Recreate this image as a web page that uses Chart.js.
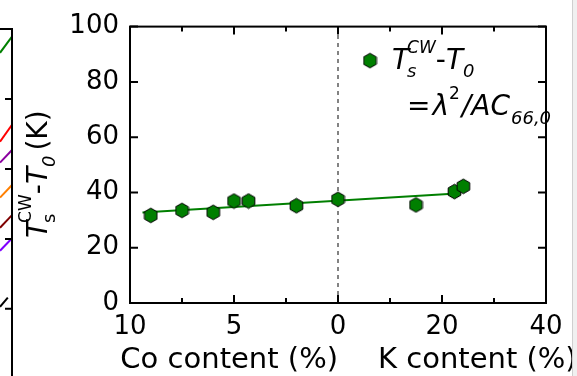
<!DOCTYPE html>
<html>
<head>
<meta charset="utf-8">
<script src="https://cdn.jsdelivr.net/npm/chart.js@4/dist/chart.umd.min.js"></script>
<style>
  html, body { margin: 0; padding: 0; background: #fff; }
  #wrap { position: relative; width: 577px; height: 376px; overflow: hidden; }
  #main, #side { position: absolute; left: 0; top: 0; }
  #edge { position: absolute; left: 572px; top: 0; width: 5px; height: 376px; background: #f0f0f0; border-left: 1px solid #cfcfcf; }
</style>
</head>
<body>
<div id="wrap">
  <canvas id="main" width="577" height="376"></canvas>
  <canvas id="side" width="13" height="376"></canvas>
  <div id="edge"></div>
</div>
<script>
// Co-doped side (x runs 10 -> 0) and K-doped side (x runs 0 -> 40)
const coContent = [9.0, 7.5, 6.0, 5.0, 4.3, 2.0, 0];
const coTemp    = [31.7, 33.5, 32.8, 36.9, 36.9, 35.2, 37.5];
const kContent  = [15.0, 22.4, 24.1];
const kTemp     = [35.5, 40.3, 42.2];

// linear fit, ends given on the two content axes
const fitStart = { co: 9.4, t: 32.7 };
const fitEnd   = { k: 22.0, t: 39.5 };

const xTickValues = [-1, -0.75, -0.5, -0.25, 0, 0.25, 0.5, 0.75, 1];
const xTickLabels = { '-1': '10', '-0.5': '5', '0': '0', '0.5': '20', '1': '40' };
const yTicks = [0, 20, 40, 60, 80, 100];

// neighbouring panel, only its right edge is visible
const sideColors = ['#008000', '#ff0000', '#8b00a0', '#ff7f00', '#7f0000', '#8000ff', '#000000'];
const sideLeft   = [36.6, 23.9, 20.9, 15.9, 11.6, 8.3, 0.3];
const sideRight  = [38.9, 26.3, 22.7, 17.7, 13.4, 10.1, 1.6];
const sideRightX = [1, 1, 1, 1, 1, 1, 0.65];
const sideTicks  = [0, 10, 20, 30];

const FONT = 'DejaVu Sans';
const GREEN = '#007f00';

// both content axes share one linear scale: Co maps to [-1,0], K to [0,1]
const fromCo = c => -c / 10;
const fromK = k => k / 40;

function hexagon(r, fill) {
  const c = document.createElement('canvas');
  const w = Math.ceil(Math.sqrt(3) * r) + 2, h = Math.ceil(2 * r) + 2;
  c.width = w; c.height = h;
  const g = c.getContext('2d');
  g.beginPath();
  for (let i = 0; i < 6; i++) {
    const a = Math.PI / 2 + i * Math.PI / 3;
    const x = w / 2 + r * Math.cos(a), y = h / 2 + r * Math.sin(a);
    if (i) g.lineTo(x, y); else g.moveTo(x, y);
  }
  g.closePath();
  g.fillStyle = fill; g.fill();
  g.strokeStyle = '#000'; g.lineWidth = 1; g.stroke();
  return c;
}
const hex = hexagon(7.3, GREEN);

// draw a row of text pieces (for sub/superscripts)
function runs(ctx, x, y, parts) {
  let cx = x;
  parts.forEach(p => {
    ctx.font = (p.italic ? 'italic ' : '') + p.size + 'px "' + FONT + '"';
    ctx.fillText(p.text, cx, y + (p.dy || 0));
    if (!p.stack) cx += ctx.measureText(p.text).width + (p.gap || 0);
  });
  return cx;
}

const points = coContent.map((c, i) => ({ x: fromCo(c), y: coTemp[i] }))
  .concat(kContent.map((k, i) => ({ x: fromK(k), y: kTemp[i] })));

const framePlugin = {
  id: 'frame',
  afterDatasetsDraw(chart) {
    const { ctx, chartArea: a, scales: { x, y } } = chart;
    ctx.save();
    ctx.strokeStyle = '#000';
    ctx.lineWidth = 2;
    ctx.strokeRect(a.left, a.top, a.right - a.left, a.bottom - a.top);
    ctx.beginPath();
    xTickValues.forEach(v => {
      const px = x.getPixelForValue(v);
      const len = xTickLabels[String(v)] !== undefined ? 8 : 5;
      ctx.moveTo(px, a.bottom); ctx.lineTo(px, a.bottom - len);
      ctx.moveTo(px, a.top); ctx.lineTo(px, a.top + len);
    });
    yTicks.forEach(v => {
      const py = y.getPixelForValue(v);
      ctx.moveTo(a.left, py); ctx.lineTo(a.left + 8, py);
      ctx.moveTo(a.right, py); ctx.lineTo(a.right - 8, py);
    });
    ctx.stroke();
    ctx.restore();
  },
  afterDraw(chart) {
    const { ctx, chartArea: a, scales: { x } } = chart;
    ctx.save();
    ctx.fillStyle = '#000';
    ctx.textBaseline = 'alphabetic';

    // axis titles under the two halves
    ctx.font = '29px "' + FONT + '"';
    ctx.textAlign = 'right';
    ctx.fillText('Co content (%)', x.getPixelForValue(0), 368);
    ctx.textAlign = 'left';
    ctx.fillText('K content (%)', x.getPixelForValue(0) + 40, 368);

    // rotated y title
    ctx.save();
    ctx.translate(47, 238);
    ctx.rotate(-Math.PI / 2);
    ctx.textAlign = 'left';
    let cx = runs(ctx, 0, 0, [{ text: 'T', italic: true, size: 28, gap: -2 }]);
    runs(ctx, cx, 0, [{ text: 's', size: 18, dy: 8, stack: true }]);
    cx = runs(ctx, cx, 0, [{ text: 'CW', size: 17, dy: -16 }]);
    runs(ctx, cx, 0, [{ text: '-', size: 28 }, { text: 'T', italic: true, size: 28 },
      { text: '0', italic: true, size: 18, dy: 8, gap: 5 }, { text: '(K)', size: 28 }]);
    ctx.restore();

    // legend box
    const lx = a.right - 176, ly = a.top + 34;
    ctx.drawImage(hex, lx - hex.width / 2, ly - hex.height / 2);
    cx = runs(ctx, lx + 22, ly + 8, [{ text: 'T', italic: true, size: 28, gap: -2 }]);
    runs(ctx, cx, ly + 8, [{ text: 's', italic: true, size: 18, dy: 8, stack: true }]);
    cx = runs(ctx, cx, ly + 8, [{ text: 'CW', italic: true, size: 17, dy: -16 }]);
    runs(ctx, cx, ly + 8, [{ text: '-', size: 28 }, { text: 'T', italic: true, size: 28 },
      { text: '0', italic: true, size: 18, dy: 8 }]);
    runs(ctx, lx + 37, ly + 54, [{ text: '=', size: 28, gap: 2 }, { text: 'λ', italic: true, size: 28 },
      { text: '2', size: 17, dy: -16, gap: 2 }, { text: '/AC', italic: true, size: 28, gap: 1 },
      { text: '66,0', italic: true, size: 18, dy: 9 }]);
    ctx.restore();
  }
};

new Chart(document.getElementById('main'), {
  type: 'scatter',
  data: {
    datasets: [
      {
        label: 'Ts-T0',
        data: points,
        pointStyle: hex,
        pointRadius: 8,
        showLine: false,
        order: 0
      },
      {
        label: 'fit',
        data: [{ x: fromCo(fitStart.co), y: fitStart.t }, { x: fromK(fitEnd.k), y: fitEnd.t }],
        showLine: true,
        borderColor: GREEN,
        borderWidth: 2,
        pointRadius: 0,
        order: 1
      },
      {
        label: 'divider',
        data: [{ x: 0, y: 0 }, { x: 0, y: 100 }],
        showLine: true,
        borderColor: '#333',
        borderWidth: 1.2,
        borderDash: [4, 4],
        pointRadius: 0,
        order: 2
      }
    ]
  },
  options: {
    responsive: false,
    animation: false,
    layout: { padding: { left: 0, right: 31, top: 22, bottom: 0 } },
    plugins: { legend: { display: false }, tooltip: { enabled: false } },
    scales: {
      x: {
        type: 'linear', min: -1, max: 1,
        afterBuildTicks: s => { s.ticks = xTickValues.map(v => ({ value: v })); },
        afterFit: s => { s.height = 73; },
        grid: { display: false, drawTicks: false },
        border: { display: false },
        ticks: {
          autoSkip: false, maxRotation: 0, padding: 9, color: '#000',
          font: { family: FONT, size: 26 },
          callback: v => xTickLabels[String(v)] || ''
        }
      },
      y: {
        min: 0, max: 100,
        afterBuildTicks: s => { s.ticks = yTicks.map(v => ({ value: v })); },
        afterFit: s => { s.width = 130; },
        grid: { display: false, drawTicks: false },
        border: { display: false },
        ticks: { padding: 11, color: '#000', font: { family: FONT, size: 26 } }
      }
    }
  },
  plugins: [framePlugin]
});

// edge of the neighbouring panel on the far left
const sideFrame = {
  id: 'sideFrame',
  afterDatasetsDraw(chart) {
    const { ctx, chartArea: a, scales: { y } } = chart;
    ctx.save();
    ctx.strokeStyle = '#000';
    ctx.lineWidth = 2;
    ctx.beginPath();
    ctx.moveTo(0, a.top); ctx.lineTo(a.right, a.top); ctx.lineTo(a.right, a.bottom);
    sideTicks.forEach(v => {
      const py = y.getPixelForValue(v);
      ctx.moveTo(a.right, py); ctx.lineTo(a.right - 7, py);
    });
    ctx.stroke();
    ctx.restore();
  }
};

new Chart(document.getElementById('side'), {
  type: 'scatter',
  data: {
    datasets: sideColors.map((col, i) => ({
      data: [{ x: 0, y: sideLeft[i] }, { x: sideRightX[i], y: sideRight[i] }],
      showLine: true, borderColor: col, borderWidth: 2, pointRadius: 0
    }))
  },
  options: {
    responsive: false,
    animation: false,
    layout: { padding: { left: 0, right: 1, top: 29, bottom: 0 } },
    plugins: { legend: { display: false }, tooltip: { enabled: false } },
    scales: {
      x: { display: false, min: 0, max: 1 },
      y: { display: false, min: -9.6, max: 40 }
    }
  },
  plugins: [sideFrame]
});
</script>
</body>
</html>
